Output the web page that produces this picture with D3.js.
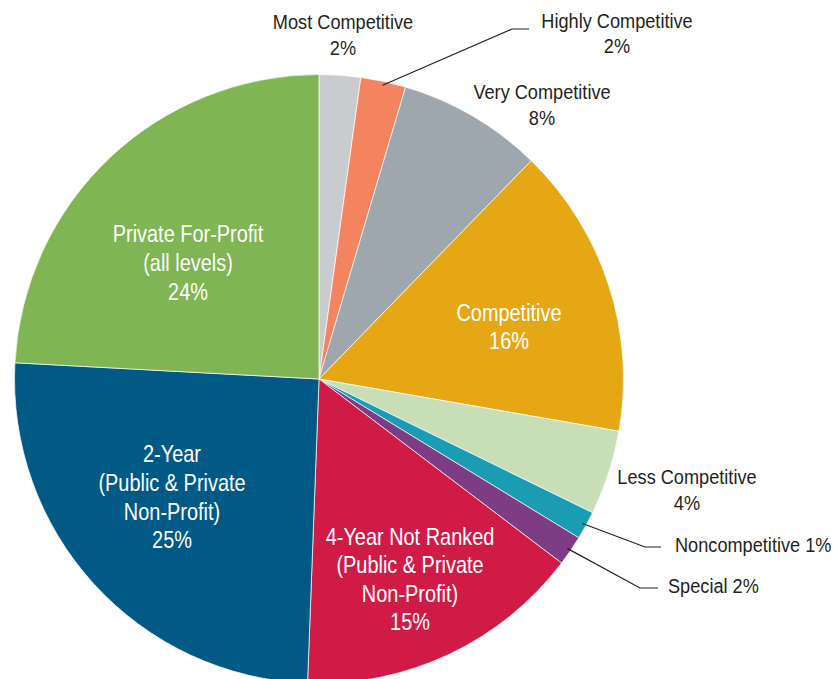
<!DOCTYPE html>
<head>
    <meta charset="utf-8">
    <style>
        body { margin: 0; background: #fff; }
        svg { display: block; }
        text { font-family: "Liberation Sans", Arial, sans-serif; }
        .slice { stroke: #fff; stroke-width: 0.7px; }
        .inner-label { fill: #fff; font-size: 24px; }
        .outer-label { fill: #231f20; font-size: 21px; }
        .leader { fill: none; stroke: #231f20; stroke-width: 1.2px; }
    </style>
</head>

<body>
    <script src="https://d3js.org/d3.v7.min.js"></script>

    <script>
        // slices, clockwise from 12 o'clock
        var categories = ["Most Competitive", "Highly Competitive", "Very Competitive", "Competitive",
            "Less Competitive", "Noncompetitive", "Special", "4-Year Not Ranked",
            "2-Year", "Private For-Profit"];
        // share of the circle as drawn (percent)
        var shares = [2.2, 2.4, 7.7, 15.5, 4.5, 1.5, 1.6, 15.3, 25.3, 24.2];
        // printed labels, one entry per line
        var labelLines = [
            ["Most Competitive", "2%"],
            ["Highly Competitive", "2%"],
            ["Very Competitive", "8%"],
            ["Competitive", "16%"],
            ["Less Competitive", "4%"],
            ["Noncompetitive 1%"],
            ["Special 2%"],
            ["4-Year Not Ranked", "(Public & Private", "Non-Profit)", "15%"],
            ["2-Year", "(Public & Private", "Non-Profit)", "25%"],
            ["Private For-Profit", "(all levels)", "24%"]
        ];
        var colors = ["#c9cccf", "#f4845f", "#9da7ad", "#e5a713", "#c7deb6",
            "#1a9db3", "#7d3c84", "#d01b47", "#005a85", "#7fb553"];

        var width = 833,
            height = 679,
            cx = 319,
            cy = 379,
            radius = 304.5;

        // no condensed face installed, so squeeze a regular one sideways
        var innerSqueeze = 0.83,
            outerSqueeze = 0.865;

        // label placement: inside (white, centered) or outside (dark)
        var labelPos = [
            {x: 343, y: 29, anchor: "middle", inside: false, gap: 26},
            {x: 617, y: 28, anchor: "middle", inside: false, gap: 25},
            {x: 542, y: 99, anchor: "middle", inside: false, gap: 26},
            {x: 509, y: 321, anchor: "middle", inside: true, gap: 28},
            {x: 687, y: 484, anchor: "middle", inside: false, gap: 26},
            {x: 675, y: 552, anchor: "start", inside: false, gap: 0},
            {x: 668, y: 593, anchor: "start", inside: false, gap: 0},
            {x: 410, y: 545, anchor: "middle", inside: true, gap: 28.5},
            {x: 172, y: 462, anchor: "middle", inside: true, gap: 28.8},
            {x: 188, y: 242, anchor: "middle", inside: true, gap: 29}
        ];

        // leader lines: elbow point and end of the short horizontal
        var leaders = [
            {i: 1, elbow: [512, 29], end: [529, 29]},
            {i: 5, elbow: [645, 547], end: [661, 547]},
            {i: 6, elbow: [640, 588], end: [658, 588]}
        ];

        var svg = d3.select("body").append("svg")
            .attr("width", width)
            .attr("height", height);

        var g = svg.append("g")
            .attr("transform", "translate(" + cx + "," + cy + ")");

        var pie = d3.pie().sort(null).value(function(d) { return d; });
        var arcs = pie(shares);

        var arc = d3.arc().innerRadius(0).outerRadius(radius);

        g.selectAll("path.slice")
            .data(arcs)
            .enter().append("path")
            .attr("class", "slice")
            .attr("fill", function(d, i) { return colors[i]; })
            .attr("d", arc);

        // leaders start slightly inside the slice edge at its middle angle
        var edgeArc = d3.arc().innerRadius(radius - 4).outerRadius(radius - 4);
        leaders.forEach(function(l) {
            var p = edgeArc.centroid(arcs[l.i]);
            var pts = [[p[0] + cx, p[1] + cy], l.elbow, l.end];
            svg.append("path")
                .attr("class", "leader")
                .attr("d", d3.line()(pts));
        });

        labelLines.forEach(function(lines, i) {
            var pos = labelPos[i];
            var sx = pos.inside ? innerSqueeze : outerSqueeze;
            var t = svg.append("text")
                .attr("class", pos.inside ? "inner-label" : "outer-label")
                .style("text-anchor", pos.anchor)
                .attr("transform", "translate(" + pos.x + "," + pos.y + ") scale(" + sx + ",1)");
            lines.forEach(function(s, k) {
                t.append("tspan")
                    .attr("x", 0)
                    .attr("y", k * pos.gap)
                    .text(s);
            });
        });
    </script>
</body>
